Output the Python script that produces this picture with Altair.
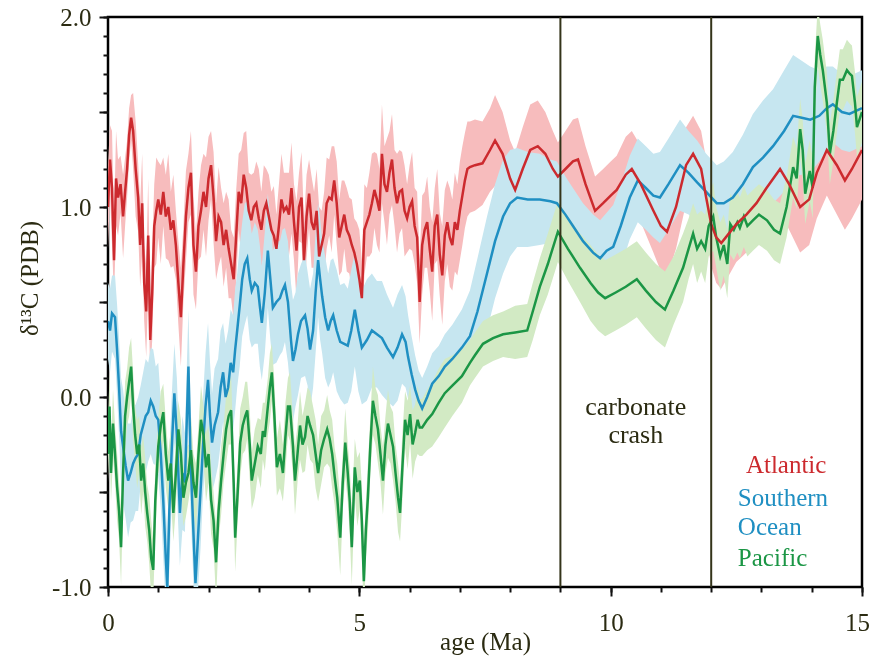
import altair as alt
import pandas as pd

# Benthic foraminiferal d13C stacks: (age Ma, d13C permil PDB, 1-sigma band half-width)
atlantic = [
    (0.00, 1.00, 0.22), (0.04, 1.25, 0.18), (0.08, 1.10, 0.30), (0.12, 0.72, 0.20),
    (0.16, 1.15, 0.25), (0.20, 1.05, 0.20), (0.25, 1.12, 0.15), (0.30, 0.95, 0.22),
    (0.34, 1.08, 0.18), (0.38, 1.20, 0.15), (0.42, 1.38, 0.14), (0.46, 1.47, 0.12),
    (0.50, 1.40, 0.20), (0.55, 1.20, 0.25), (0.60, 1.05, 0.18), (0.64, 0.80, 0.22),
    (0.68, 1.02, 0.26), (0.72, 0.60, 0.20), (0.76, 0.45, 0.24), (0.80, 0.85, 0.30),
    (0.84, 0.30, 0.18), (0.88, 0.55, 0.25), (0.92, 0.90, 0.22), (0.96, 0.98, 0.28),
    (1.00, 1.04, 0.20), (1.05, 0.96, 0.26), (1.10, 1.08, 0.18), (1.15, 0.95, 0.22),
    (1.20, 1.00, 0.28), (1.25, 0.88, 0.20), (1.30, 0.93, 0.24), (1.35, 0.80, 0.18),
    (1.40, 0.60, 0.22), (1.45, 0.42, 0.26), (1.50, 0.70, 0.20), (1.55, 0.95, 0.24),
    (1.60, 1.10, 0.18), (1.65, 1.18, 0.22), (1.70, 0.80, 0.26), (1.75, 0.66, 0.20),
    (1.80, 0.90, 0.18), (1.85, 0.98, 0.24), (1.90, 1.08, 0.20), (1.95, 1.00, 0.26),
    (2.00, 1.15, 0.22), (2.05, 1.22, 0.18), (2.10, 1.05, 0.24), (2.15, 0.82, 0.20),
    (2.20, 0.95, 0.26), (2.25, 0.92, 0.18), (2.30, 0.80, 0.22), (2.35, 0.88, 0.20),
    (2.40, 0.78, 0.26), (2.45, 0.70, 0.18), (2.50, 0.62, 0.22), (2.55, 0.85, 0.24),
    (2.60, 1.08, 0.20), (2.65, 1.02, 0.28), (2.70, 1.17, 0.22), (2.75, 1.10, 0.30),
    (2.80, 0.98, 0.20), (2.85, 0.93, 0.24), (2.90, 1.00, 0.18), (2.95, 1.02, 0.22),
    (3.00, 0.94, 0.26), (3.05, 0.88, 0.20), (3.10, 0.98, 0.24), (3.15, 1.02, 0.18),
    (3.20, 0.95, 0.22), (3.25, 0.88, 0.20), (3.30, 0.85, 0.26), (3.35, 0.78, 0.18),
    (3.40, 0.90, 0.22), (3.45, 1.04, 0.24), (3.50, 0.98, 0.20), (3.55, 1.00, 0.18),
    (3.60, 0.96, 0.22), (3.65, 1.10, 0.24), (3.70, 0.92, 0.20), (3.75, 0.77, 0.26),
    (3.80, 1.00, 0.18), (3.85, 1.05, 0.24), (3.90, 0.72, 0.20), (3.95, 0.95, 0.22),
    (4.00, 1.07, 0.18), (4.05, 0.92, 0.24), (4.10, 0.88, 0.20), (4.15, 0.98, 0.22),
    (4.20, 0.74, 0.26), (4.25, 0.80, 0.18), (4.30, 0.86, 0.22), (4.35, 1.02, 0.24),
    (4.40, 1.05, 0.20), (4.45, 1.04, 0.28), (4.50, 1.14, 0.18), (4.55, 1.02, 0.22),
    (4.60, 0.84, 0.20), (4.65, 0.90, 0.24), (4.70, 0.96, 0.18), (4.75, 0.88, 0.22),
    (4.80, 0.85, 0.20), (4.85, 0.80, 0.24), (4.90, 0.76, 0.18), (4.95, 0.70, 0.22),
    (5.00, 0.62, 0.26), (5.05, 0.52, 0.20), (5.10, 0.88, 0.24), (5.15, 0.92, 0.18),
    (5.20, 0.96, 0.22), (5.25, 1.02, 0.26), (5.30, 1.09, 0.20), (5.35, 1.04, 0.24),
    (5.40, 0.98, 0.22), (5.45, 1.28, 0.26), (5.50, 1.12, 0.20), (5.55, 1.08, 0.28),
    (5.60, 1.18, 0.22), (5.65, 1.25, 0.24), (5.70, 1.10, 0.20), (5.75, 1.02, 0.26),
    (5.80, 1.08, 0.22), (5.85, 1.09, 0.20), (5.90, 0.98, 0.24), (5.95, 0.94, 0.18),
    (6.00, 1.00, 0.22), (6.05, 1.03, 0.26), (6.10, 0.90, 0.20), (6.15, 0.84, 0.24),
    (6.20, 0.50, 0.22), (6.25, 0.80, 0.26), (6.30, 0.88, 0.20), (6.35, 0.92, 0.24),
    (6.40, 0.78, 0.22), (6.45, 0.66, 0.26), (6.50, 0.90, 0.20), (6.55, 0.96, 0.24),
    (6.60, 0.75, 0.22), (6.65, 0.64, 0.26), (6.70, 0.85, 0.24), (6.75, 0.92, 0.22),
    (6.80, 0.84, 0.26), (6.85, 0.80, 0.24), (6.90, 0.92, 0.26), (6.95, 0.88, 0.24),
    (7.00, 0.98, 0.26), (7.05, 1.06, 0.26), (7.10, 1.14, 0.25), (7.15, 1.20, 0.25),
    (7.20, 1.21, 0.24), (7.30, 1.22, 0.24), (7.45, 1.23, 0.22), (7.60, 1.30, 0.22),
    (7.70, 1.35, 0.24), (7.85, 1.28, 0.22), (8.00, 1.15, 0.20), (8.10, 1.09, 0.20),
    (8.25, 1.20, 0.22), (8.40, 1.30, 0.24), (8.55, 1.32, 0.24), (8.70, 1.28, 0.22),
    (8.85, 1.20, 0.20), (8.95, 1.16, 0.18), (9.10, 1.20, 0.20), (9.25, 1.24, 0.22),
    (9.35, 1.25, 0.22), (9.50, 1.12, 0.20), (9.69, 0.98, 0.18), (9.85, 1.02, 0.18),
    (10.00, 1.06, 0.18), (10.12, 1.09, 0.18), (10.30, 1.17, 0.20), (10.42, 1.20, 0.20),
    (10.60, 1.12, 0.20), (10.85, 0.98, 0.22), (11.00, 0.90, 0.24), (11.12, 0.87, 0.24),
    (11.30, 1.00, 0.22), (11.50, 1.22, 0.20), (11.64, 1.28, 0.20), (11.80, 1.20, 0.20),
    (11.90, 1.05, 0.20), (12.00, 0.91, 0.22), (12.10, 0.84, 0.24), (12.20, 0.81, 0.24),
    (12.35, 0.86, 0.22), (12.50, 0.91, 0.20), (12.70, 0.96, 0.20), (12.90, 1.02, 0.20),
    (13.10, 1.10, 0.22), (13.37, 1.20, 0.22), (13.55, 1.12, 0.24), (13.77, 1.00, 0.24),
    (13.95, 1.04, 0.24), (14.10, 1.18, 0.24), (14.30, 1.30, 0.24), (14.50, 1.22, 0.26),
    (14.66, 1.14, 0.26), (14.80, 1.20, 0.26), (15.00, 1.30, 0.26),
]

southern = [
    (0.00, 0.40, 0.20), (0.04, 0.35, 0.22), (0.08, 0.44, 0.20), (0.14, 0.42, 0.22),
    (0.18, 0.25, 0.24), (0.22, 0.05, 0.26), (0.26, -0.18, 0.28), (0.30, -0.26, 0.30),
    (0.35, -0.36, 0.28), (0.40, -0.44, 0.30), (0.45, -0.40, 0.26), (0.50, -0.35, 0.30),
    (0.55, -0.32, 0.28), (0.60, -0.30, 0.30), (0.65, -0.20, 0.26), (0.70, -0.15, 0.28),
    (0.75, -0.10, 0.30), (0.80, -0.08, 0.26), (0.85, -0.02, 0.28), (0.90, -0.05, 0.30),
    (0.95, -0.10, 0.26), (1.00, -0.12, 0.30), (1.05, -0.30, 0.28), (1.10, -0.55, 0.30),
    (1.15, -0.85, 0.26), (1.18, -1.00, 0.28), (1.22, -0.60, 0.30), (1.27, -0.26, 0.28),
    (1.32, 0.02, 0.26), (1.37, -0.20, 0.30), (1.43, -0.61, 0.28), (1.48, -0.40, 0.30),
    (1.53, -0.45, 0.26), (1.57, -0.10, 0.28), (1.60, 0.16, 0.30), (1.64, -0.30, 0.28),
    (1.69, -0.65, 0.26), (1.74, -0.98, 0.30), (1.79, -0.74, 0.28), (1.84, -0.50, 0.30),
    (1.89, -0.26, 0.26), (1.94, -0.05, 0.28), (1.99, 0.09, 0.30), (2.03, -0.10, 0.28),
    (2.07, -0.24, 0.26), (2.12, -0.15, 0.30), (2.19, -0.08, 0.28), (2.24, 0.05, 0.30),
    (2.29, 0.13, 0.26), (2.34, 0.00, 0.28), (2.39, 0.05, 0.30), (2.44, 0.18, 0.28),
    (2.49, 0.13, 0.30), (2.53, 0.25, 0.32), (2.57, 0.35, 0.30), (2.62, 0.48, 0.32),
    (2.67, 0.62, 0.30), (2.72, 0.70, 0.32), (2.77, 0.73, 0.30), (2.82, 0.62, 0.32),
    (2.86, 0.56, 0.30), (2.92, 0.60, 0.32), (2.98, 0.58, 0.30), (3.02, 0.48, 0.32),
    (3.06, 0.39, 0.30), (3.12, 0.55, 0.32), (3.18, 0.77, 0.30), (3.23, 0.62, 0.32),
    (3.28, 0.47, 0.30), (3.35, 0.50, 0.32), (3.42, 0.52, 0.30), (3.47, 0.56, 0.32),
    (3.52, 0.59, 0.30), (3.58, 0.50, 0.32), (3.64, 0.30, 0.30), (3.68, 0.19, 0.32),
    (3.73, 0.25, 0.30), (3.78, 0.33, 0.32), (3.84, 0.40, 0.30), (3.92, 0.43, 0.32),
    (3.97, 0.36, 0.30), (4.02, 0.25, 0.32), (4.08, 0.35, 0.30), (4.13, 0.55, 0.32),
    (4.18, 0.72, 0.30), (4.22, 0.62, 0.32), (4.26, 0.53, 0.30), (4.32, 0.42, 0.32),
    (4.38, 0.35, 0.30), (4.43, 0.40, 0.32), (4.48, 0.43, 0.30), (4.55, 0.35, 0.32),
    (4.62, 0.29, 0.30), (4.70, 0.28, 0.32), (4.77, 0.27, 0.30), (4.84, 0.35, 0.32),
    (4.91, 0.46, 0.30), (4.98, 0.35, 0.32), (5.05, 0.26, 0.30), (5.15, 0.30, 0.32),
    (5.25, 0.35, 0.30), (5.35, 0.33, 0.28), (5.45, 0.31, 0.30), (5.55, 0.26, 0.28),
    (5.67, 0.21, 0.26), (5.76, 0.26, 0.28), (5.85, 0.33, 0.26), (5.92, 0.29, 0.24),
    (5.97, 0.21, 0.22), (6.04, 0.12, 0.20), (6.11, 0.04, 0.18), (6.18, -0.02, 0.16),
    (6.25, -0.06, 0.16), (6.35, 0.00, 0.16), (6.45, 0.07, 0.16), (6.58, 0.11, 0.16),
    (6.70, 0.16, 0.17), (6.85, 0.20, 0.18), (7.04, 0.26, 0.20), (7.20, 0.32, 0.24),
    (7.35, 0.45, 0.28), (7.54, 0.65, 0.30), (7.70, 0.82, 0.30), (7.86, 0.95, 0.30),
    (8.00, 1.02, 0.28), (8.14, 1.05, 0.26), (8.35, 1.04, 0.25), (8.59, 1.04, 0.24),
    (8.80, 1.03, 0.22), (8.93, 1.02, 0.22), (9.10, 0.96, 0.20), (9.25, 0.90, 0.20),
    (9.45, 0.82, 0.20), (9.65, 0.76, 0.20), (9.79, 0.73, 0.20), (9.92, 0.77, 0.20),
    (10.05, 0.79, 0.22), (10.20, 0.90, 0.22), (10.38, 1.05, 0.22), (10.54, 1.14, 0.22),
    (10.70, 1.10, 0.22), (10.85, 1.06, 0.22), (10.98, 1.05, 0.24), (11.15, 1.12, 0.24),
    (11.38, 1.22, 0.24), (11.55, 1.18, 0.22), (11.72, 1.13, 0.22), (11.90, 1.08, 0.20),
    (12.11, 1.02, 0.20), (12.25, 1.02, 0.22), (12.43, 1.05, 0.24), (12.63, 1.12, 0.26),
    (12.83, 1.21, 0.28), (13.03, 1.26, 0.30), (13.23, 1.32, 0.30), (13.45, 1.40, 0.32),
    (13.63, 1.48, 0.32), (13.80, 1.47, 0.30), (13.97, 1.46, 0.28), (14.15, 1.48, 0.24),
    (14.30, 1.52, 0.22), (14.42, 1.54, 0.20), (14.60, 1.50, 0.20), (14.75, 1.49, 0.20),
    (15.00, 1.52, 0.20),
]

pacific = [
    (0.00, -0.30, 0.15), (0.03, -0.05, 0.18), (0.06, -0.40, 0.15), (0.10, -0.14, 0.18),
    (0.14, -0.30, 0.15), (0.18, -0.47, 0.18), (0.22, -0.60, 0.15), (0.26, -0.79, 0.20),
    (0.30, -0.40, 0.15), (0.34, -0.10, 0.18), (0.38, 0.00, 0.15), (0.42, 0.08, 0.18),
    (0.46, 0.16, 0.15), (0.50, -0.05, 0.18), (0.54, -0.20, 0.15), (0.58, -0.30, 0.18),
    (0.62, -0.25, 0.15), (0.66, -0.44, 0.18), (0.70, -0.35, 0.15), (0.74, -0.50, 0.18),
    (0.78, -0.61, 0.15), (0.82, -0.70, 0.18), (0.86, -0.85, 0.20), (0.90, -0.91, 0.15),
    (0.94, -0.55, 0.18), (1.00, -0.26, 0.15), (1.05, -0.15, 0.18), (1.10, -0.08, 0.15),
    (1.15, -0.30, 0.18), (1.20, -0.44, 0.15), (1.25, -0.35, 0.18), (1.30, -0.61, 0.15),
    (1.35, -0.40, 0.18), (1.40, -0.17, 0.15), (1.45, -0.30, 0.18), (1.50, -0.53, 0.15),
    (1.55, -0.45, 0.18), (1.60, -0.40, 0.15), (1.65, -0.28, 0.18), (1.70, -0.45, 0.15),
    (1.75, -0.53, 0.18), (1.80, -0.30, 0.15), (1.85, -0.12, 0.18), (1.90, -0.20, 0.15),
    (1.95, -0.37, 0.18), (2.00, -0.30, 0.15), (2.05, -0.54, 0.18), (2.10, -0.65, 0.15),
    (2.15, -0.87, 0.20), (2.20, -0.60, 0.15), (2.25, -0.44, 0.18), (2.30, -0.30, 0.15),
    (2.35, -0.17, 0.18), (2.40, -0.10, 0.15), (2.45, -0.07, 0.18), (2.50, -0.45, 0.15),
    (2.53, -0.74, 0.18), (2.58, -0.50, 0.15), (2.63, -0.24, 0.18), (2.68, -0.15, 0.15),
    (2.73, -0.10, 0.18), (2.77, -0.07, 0.15), (2.82, -0.25, 0.18), (2.86, -0.44, 0.15),
    (2.92, -0.35, 0.18), (2.98, -0.26, 0.15), (3.04, -0.30, 0.18), (3.08, -0.18, 0.15),
    (3.12, -0.21, 0.18), (3.18, -0.05, 0.15), (3.22, 0.05, 0.18), (3.26, 0.13, 0.15),
    (3.31, -0.10, 0.18), (3.36, -0.37, 0.15), (3.42, -0.30, 0.18), (3.48, -0.40, 0.15),
    (3.53, -0.21, 0.18), (3.58, -0.05, 0.15), (3.62, -0.05, 0.18), (3.68, -0.26, 0.15),
    (3.72, -0.44, 0.18), (3.77, -0.30, 0.15), (3.82, -0.15, 0.18), (3.87, -0.25, 0.15),
    (3.92, -0.21, 0.18), (3.97, -0.10, 0.15), (4.02, -0.15, 0.18), (4.08, -0.20, 0.15),
    (4.13, -0.30, 0.18), (4.18, -0.40, 0.15), (4.24, -0.28, 0.18), (4.30, -0.22, 0.15),
    (4.36, -0.17, 0.18), (4.41, -0.22, 0.15), (4.46, -0.30, 0.18), (4.51, -0.42, 0.15),
    (4.56, -0.53, 0.18), (4.62, -0.74, 0.20), (4.67, -0.45, 0.15), (4.72, -0.24, 0.18),
    (4.77, -0.40, 0.15), (4.81, -0.55, 0.18), (4.85, -0.79, 0.20), (4.91, -0.37, 0.15),
    (4.96, -0.50, 0.18), (5.01, -0.44, 0.15), (5.05, -0.65, 0.18), (5.09, -0.97, 0.20),
    (5.13, -0.70, 0.15), (5.17, -0.53, 0.18), (5.22, -0.25, 0.15), (5.27, -0.02, 0.18),
    (5.32, -0.10, 0.15), (5.37, -0.17, 0.18), (5.42, -0.30, 0.15), (5.47, -0.44, 0.18),
    (5.52, -0.25, 0.15), (5.57, -0.14, 0.18), (5.62, -0.20, 0.15), (5.67, -0.26, 0.18),
    (5.72, -0.40, 0.15), (5.77, -0.53, 0.18), (5.81, -0.61, 0.15), (5.85, -0.40, 0.18),
    (5.91, -0.12, 0.15), (5.96, -0.20, 0.18), (6.01, -0.09, 0.15), (6.06, -0.25, 0.18),
    (6.11, -0.19, 0.15), (6.16, -0.12, 0.18), (6.20, -0.16, 0.15), (6.25, -0.16, 0.15),
    (6.35, -0.12, 0.16), (6.45, -0.09, 0.17), (6.58, -0.03, 0.18), (6.70, 0.02, 0.18),
    (6.85, 0.06, 0.16), (7.04, 0.11, 0.14), (7.20, 0.18, 0.12), (7.30, 0.22, 0.12),
    (7.46, 0.28, 0.12), (7.66, 0.31, 0.12), (7.86, 0.33, 0.12), (8.10, 0.34, 0.14),
    (8.34, 0.35, 0.14), (8.45, 0.45, 0.15), (8.59, 0.58, 0.15), (8.75, 0.70, 0.16),
    (8.95, 0.87, 0.16), (9.15, 0.78, 0.17), (9.39, 0.68, 0.18), (9.60, 0.60, 0.20),
    (9.75, 0.55, 0.20), (9.89, 0.52, 0.20), (10.10, 0.55, 0.20), (10.30, 0.58, 0.20),
    (10.52, 0.62, 0.20), (10.70, 0.56, 0.20), (10.90, 0.50, 0.20), (11.08, 0.46, 0.20),
    (11.25, 0.56, 0.18), (11.44, 0.68, 0.18), (11.55, 0.78, 0.16), (11.64, 0.86, 0.16),
    (11.72, 0.78, 0.18), (11.80, 0.82, 0.16), (11.88, 0.78, 0.18), (11.95, 0.90, 0.16),
    (12.04, 0.95, 0.18), (12.10, 0.84, 0.16), (12.18, 0.74, 0.18), (12.25, 0.80, 0.16),
    (12.32, 0.70, 0.18), (12.38, 0.91, 0.16), (12.45, 0.88, 0.16), (12.52, 0.92, 0.16),
    (12.57, 0.89, 0.16), (12.65, 0.95, 0.16), (12.72, 0.90, 0.16), (12.83, 0.93, 0.16),
    (12.95, 0.96, 0.16), (13.11, 0.93, 0.16), (13.25, 0.88, 0.16), (13.37, 0.86, 0.16),
    (13.50, 1.00, 0.16), (13.63, 1.21, 0.16), (13.70, 1.15, 0.16), (13.77, 1.41, 0.16),
    (13.82, 1.30, 0.16), (13.87, 1.07, 0.16), (13.96, 1.19, 0.16), (14.02, 1.10, 0.16),
    (14.06, 1.63, 0.16), (14.12, 1.90, 0.16), (14.17, 1.80, 0.16), (14.22, 1.72, 0.16),
    (14.30, 1.55, 0.16), (14.36, 1.28, 0.16), (14.43, 1.40, 0.16), (14.50, 1.55, 0.16),
    (14.56, 1.67, 0.16), (14.62, 1.67, 0.16), (14.70, 1.72, 0.16), (14.76, 1.70, 0.16),
    (14.80, 1.69, 0.16), (14.86, 1.55, 0.16), (14.90, 1.42, 0.16), (15.00, 1.50, 0.16),
]

series_names = ["Atlantic", "Southern Ocean", "Pacific"]
line_colors = ["#cc2a2e", "#1f8fc2", "#1b9645"]
band_colors = ["#f7bcbd", "#c6e6f0", "#d2eac4"]

crash_bounds = [9, 12]            # Ma, limits of the carbonate crash interval

TEXT = "#2b2b12"
SERIF = "Liberation Serif"


def to_frame(rows, name):
    df = pd.DataFrame(rows, columns=["age", "d13c", "err"])
    df["lo"] = df["d13c"] - df["err"]
    df["hi"] = df["d13c"] + df["err"]
    df["series"] = name
    return df


frames = [to_frame(r, n) for r, n in zip([atlantic, southern, pacific], series_names)]
all_df = pd.concat(frames, ignore_index=True)

x_scale = alt.Scale(domain=[0, 15], nice=False, zero=False)
y_scale = alt.Scale(domain=[-1, 2], nice=False, zero=False)

axis_common = dict(
    domain=False, grid=False, tickColor="#111111", tickWidth=2,
    labelFont=SERIF, labelFontSize=25, labelColor=TEXT,
    titleFont=SERIF, titleFontSize=25, titleColor=TEXT, titleFontWeight="normal",
)

x_major = alt.Axis(
    values=[0, 5, 10, 15], tickSize=9, format="d", labelPadding=14,
    labelOffset={"condition": {"test": "datum.value == 15", "value": -5}, "value": 0},
    labelFlush=False, labelOverlap=False, title="age (Ma)", titleY=42, **axis_common,
)
y_major = alt.Axis(
    values=[-1, -0.5, 0, 0.5, 1, 1.5, 2], tickSize=9, labelPadding=8,
    labelExpr="datum.value % 1 == 0 ? replace(format(datum.value, '.1f'), '\u2212', '-') : ''",
    labelFlush=False, labelOverlap=False, title="δ¹³C (PDB)",
    titleX=-66, titleY=261, **axis_common,
)
x_minor = alt.Axis(values=list(range(16)), tickSize=5, labels=False, title=None,
                   domain=False, grid=False, tickColor="#111111", tickWidth=2, orient="bottom")
y_minor = alt.Axis(values=[round(-1 + 0.1 * i, 1) for i in range(31)], tickSize=5,
                   labels=False, title=None, domain=False, grid=False,
                   tickColor="#111111", tickWidth=2, orient="left")

# uncertainty envelopes, multiplied so that overlaps darken
bands = alt.Chart(all_df).mark_area(blend="multiply", clip=True).encode(
    x=alt.X("age:Q", scale=x_scale, axis=x_major),
    y=alt.Y("lo:Q", scale=y_scale, axis=y_major),
    y2="hi:Q",
    color=alt.Color("series:N", scale=alt.Scale(domain=series_names, range=band_colors), legend=None),
)


def series_line(idx, with_axes=False):
    df = frames[idx]
    xa = x_minor if with_axes else None
    ya = y_minor if with_axes else None
    return alt.Chart(df).mark_line(color=line_colors[idx], strokeWidth=2.5, clip=True).encode(
        x=alt.X("age:Q", scale=x_scale, axis=xa),
        y=alt.Y("d13c:Q", scale=y_scale, axis=ya),
    )


line_so = series_line(1, with_axes=True)
line_pa = series_line(2)
line_at = series_line(0)

rules = alt.Chart(pd.DataFrame({"age": crash_bounds})).mark_rule(
    color="#34341a", strokeWidth=2
).encode(x=alt.X("age:Q", scale=x_scale, axis=None))

crash_label = pd.DataFrame({
    "age": [10.5, 10.5], "d13c": [-0.095, -0.242], "text": ["carbonate", "crash"],
})
crash_text = alt.Chart(crash_label).mark_text(
    font=SERIF, fontSize=26, color=TEXT, align="center", baseline="alphabetic"
).encode(
    x=alt.X("age:Q", scale=x_scale, axis=None),
    y=alt.Y("d13c:Q", scale=y_scale, axis=None),
    text="text:N",
)

key_label = pd.DataFrame({
    "age": [12.69, 12.53, 12.53, 12.53],
    "d13c": [-0.40, -0.575, -0.728, -0.89],
    "text": ["Atlantic", "Southern", "Ocean", "Pacific"],
    "series": ["Atlantic", "Southern Ocean", "Southern Ocean", "Pacific"],
})
key_text = alt.Chart(key_label).mark_text(
    font=SERIF, fontSize=25, align="left", baseline="alphabetic"
).encode(
    x=alt.X("age:Q", scale=x_scale, axis=None),
    y=alt.Y("d13c:Q", scale=y_scale, axis=None),
    text="text:N",
    color=alt.Color("series:N", scale=alt.Scale(domain=series_names, range=line_colors), legend=None),
)

chart = (
    alt.layer(bands, line_so, line_pa, line_at, rules, crash_text, key_text)
    .resolve_axis(x="independent", y="independent")
    .resolve_scale(color="independent")
    .properties(
        width=754, height=570,
        padding={"left": 108, "top": 17, "right": 11, "bottom": 73},
        autosize=alt.AutoSizeParams(type="none"),
        background="white",
    )
    .configure_view(stroke="#000000", strokeWidth=2.5)
)

chart.save("out.html", embed_options={"renderer": "svg", "actions": False})
